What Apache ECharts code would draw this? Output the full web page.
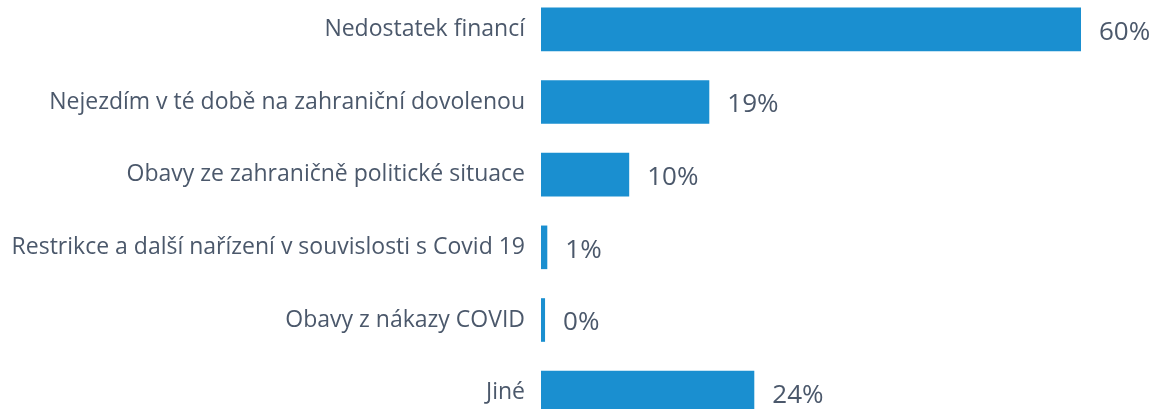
<!DOCTYPE html>
<html>
<head>
<meta charset="utf-8">
<script src="https://cdn.jsdelivr.net/npm/echarts@6/dist/echarts.min.js"></script>
<style>
  html, body { margin: 0; padding: 0; background: #fff; overflow: hidden; }
  body { width: 1155px; height: 409px; position: relative; }
  /* graf je v originále oříznutý nahoře i dole */
  #chart { position: absolute; left: 0; top: -7px; width: 1155px; height: 436px; }
</style>
</head>
<body>
<div id="chart"></div>
<script>
// kategorie (shora dolů)
const categories = [
  'Nedostatek financí',
  'Nejezdím v té době na zahraniční dovolenou',
  'Obavy ze zahraničně politické situace',
  'Restrikce a další nařízení v souvislosti s Covid 19',
  'Obavy z nákazy COVID',
  'Jiné'
]
// hodnoty v % (popisky jsou zaokrouhlené)
const values = [60, 18.7, 9.8, 0.7, 0.45, 23.7]

const mychart = echarts.init(document.getElementById('chart'))

mychart.setOption({
  animation: false,
  grid: {
    left: 541,
    right: 74,
    top: 0,
    bottom: 0,
  },
  xAxis: {
    type: 'value',
    min: 0,
    max: 60,
    show: false,
  },
  yAxis: {
    type: 'category',
    inverse: true,
    data: categories,
    axisLine: { show: false },
    axisTick: { show: false },
    axisLabel: {
      margin: 16,
      fontFamily: 'Open Sans',
      fontSize: 23,
      color: '#4b586b',
    },
  },
  series: [
    {
      type: 'bar',
      data: values,
      barCategoryGap: '40%',
      itemStyle: { color: '#1a8fd0' },
      label: {
        show: true,
        position: 'right',
        distance: 18,
        offset: [0, 3],
        fontFamily: 'Open Sans',
        fontSize: 26,
        color: '#4b586b',
        formatter: (p) => Math.round(p.value) + '%',
      },
    },
  ],
})
</script>
</body>
</html>
